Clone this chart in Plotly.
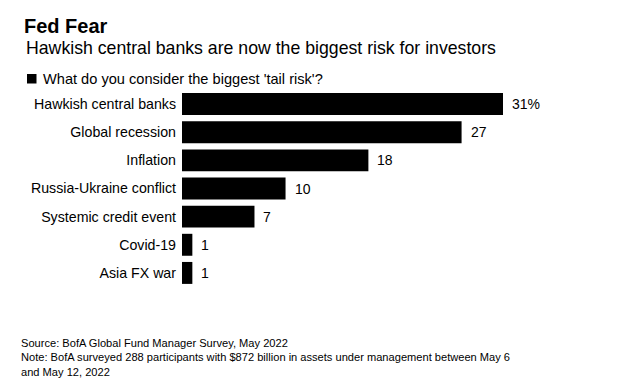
import plotly.graph_objects as go

categories = ["Hawkish central banks", "Global recession", "Inflation",
              "Russia-Ukraine conflict", "Systemic credit event", "Covid-19", "Asia FX war"]
values = [31, 27, 18, 10, 7, 1, 1]
value_labels = ["31%", "27", "18", "10", "7", "1", "1"]

title = "Fed Fear"
subtitle = "Hawkish central banks are now the biggest risk for investors"
series_name = "What do you consider the biggest 'tail risk'?"
footnote = ("Source: BofA Global Fund Manager Survey, May 2022<br>"
            "Note: BofA surveyed 288 participants with $872 billion in assets under management between May 6<br>"
            "and May 12, 2022")

W, H = 642, 388
L, R, T, B = 182, 10, 90, 101
pw, ph = W - L - R, H - T - B
px_per_unit = (503 - 182) / 31
FONT = "Liberation Sans, Arial, sans-serif"

def px_x(x):
    return (x - L) / pw

def px_y(y):
    return (H - B - y) / ph

fig = go.Figure()
fig.add_trace(go.Bar(
    y=categories, x=values, orientation="h",
    marker=dict(color="#000000", line=dict(width=0)),
    name=series_name, showlegend=False, hoverinfo="x+y",
))

for c, v, t in zip(categories, values, value_labels):
    fig.add_annotation(x=v, y=c, text=t, showarrow=False, xanchor="left",
                       xshift=7, font=dict(size=14, color="#000000", family=FONT))

fig.add_annotation(xref="paper", yref="paper", x=px_x(24), y=px_y(48),
                   text=subtitle, showarrow=False, xanchor="left", yanchor="middle",
                   font=dict(size=17.7, color="#000000", family=FONT))
# legend key
fig.add_shape(type="rect", xref="paper", yref="paper",
              x0=px_x(27), x1=px_x(36.5), y0=px_y(83.5), y1=px_y(74),
              fillcolor="#000000", line=dict(width=0))
fig.add_annotation(xref="paper", yref="paper", x=px_x(41), y=px_y(78.5),
                   text=series_name, showarrow=False, xanchor="left", yanchor="middle",
                   font=dict(size=14.6, color="#000000", family=FONT))
fig.add_annotation(xref="paper", yref="paper", x=px_x(19), y=px_y(335),
                   text=footnote, showarrow=False, xanchor="left", yanchor="top",
                   align="left", font=dict(size=11.1, color="#000000", family=FONT))

fig.update_layout(
    width=W, height=H,
    margin=dict(l=L, r=R, t=T, b=B, pad=0, autoexpand=False),
    paper_bgcolor="white", plot_bgcolor="white",
    bargap=0.22, showlegend=False,
    font=dict(family=FONT, color="#000000", size=13),
    title=dict(text="<b>" + title + "</b>", xref="container", yref="container",
               x=24 / W, xanchor="left", y=1 - 26 / H, yanchor="middle",
               font=dict(size=20, color="#000000", family=FONT)),
    xaxis=dict(range=[0, pw / px_per_unit], visible=False, fixedrange=True),
    yaxis=dict(categoryorder="array", categoryarray=categories,
               range=[len(categories) - 0.5, -0.5], showgrid=False, zeroline=False,
               showline=False, ticks="", ticklabelstandoff=5, automargin=False,
               tickfont=dict(size=14.2, color="#000000", family=FONT)),
)

fig.write_html("out.html", config={"displayModeBar": False},
               post_script="document.body.style.margin='0';")
